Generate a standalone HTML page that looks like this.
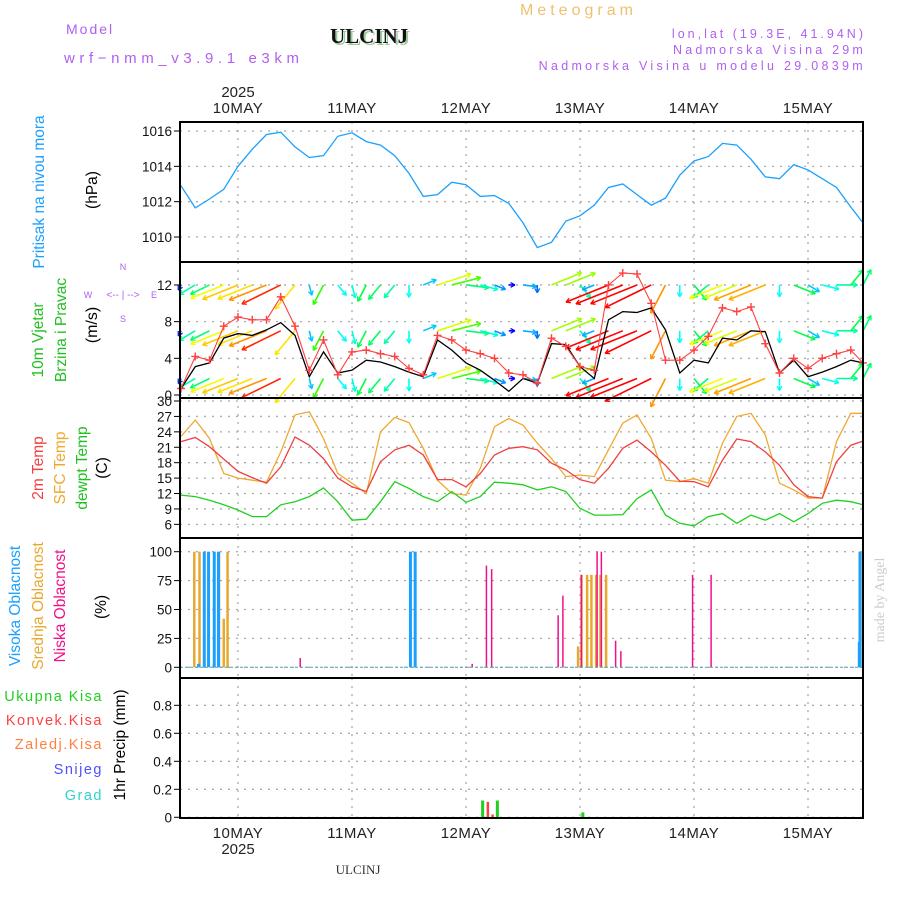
<!DOCTYPE html>
<html><head><meta charset="utf-8"><style>
body{margin:0;background:#fff}
svg{display:block;font-family:"Liberation Sans",sans-serif}
</style></head><body>
<svg id="chart" width="900" height="900" viewBox="0 0 900 900" xmlns="http://www.w3.org/2000/svg">
<rect width="900" height="900" fill="#fff"/>
<text x="66" y="34" fill="#b060f0" font-size="14" letter-spacing="2">Model</text>
<text x="64" y="63" fill="#b060f0" font-size="15" letter-spacing="4.6">wrf−nmm_v3.9.1 e3km</text>
<text x="330" y="43" font-family="Liberation Serif,serif" font-weight="bold" font-size="21" fill="#9c9" dx="2" dy="2">ULCINJ</text>
<text x="330" y="43" font-family="Liberation Serif,serif" font-weight="bold" font-size="21" fill="#111">ULCINJ</text>
<text x="520" y="15" fill="#f0c070" font-size="16" letter-spacing="4">Meteogram</text>
<text x="866" y="38" text-anchor="end" fill="#b060f0" font-size="12.5" letter-spacing="3">lon,lat (19.3E, 41.94N)</text>
<text x="866" y="54" text-anchor="end" fill="#b060f0" font-size="12.5" letter-spacing="3.2">Nadmorska Visina 29m</text>
<text x="866" y="70" text-anchor="end" fill="#b060f0" font-size="12.5" letter-spacing="3.3">Nadmorska Visina u modelu 29.0839m</text>
<text x="358" y="874" text-anchor="middle" font-family="Liberation Serif,serif" font-size="13" fill="#333">ULCINJ</text>
<text transform="translate(884,600) rotate(-90)" text-anchor="middle" font-family="Liberation Serif,serif" font-size="14" fill="#ccc">made by Angel</text>
<g id="grid"></g><g id="marks"></g><g id="frames"></g><g id="labels"></g>
</svg>
<script>
// ---- data (hours from 10MAY 00UTC, every 3h from -12 to 132) ----
const hours=[-12,-9,-6,-3,0,3,6,9,12,15,18,21,24,27,30,33,36,39,42,45,48,51,54,57,60,63,66,69,72,75,78,81,84,87,90,93,96,99,102,105,108,111,114,117,120,123,126,129,132];
const pressure=[1012.9,1011.65,1012.15,1012.7,1014.0,1014.97,1015.8,1015.93,1015.1,1014.5,1014.6,1015.7,1015.9,1015.4,1015.2,1014.6,1013.6,1012.3,1012.4,1013.1,1012.96,1012.3,1012.35,1011.9,1010.8,1009.4,1009.7,1010.9,1011.2,1011.8,1012.8,1013.0,1012.4,1011.8,1012.2,1013.5,1014.3,1014.55,1015.3,1015.2,1014.4,1013.4,1013.3,1014.1,1013.8,1013.3,1012.8,1011.7,1010.8];
const windSpeed=[0.7,3.1,3.5,6.2,6.7,6.5,7.1,7.9,6.5,2.0,4.7,2.4,2.7,3.8,3.6,3.1,2.5,2.0,6.0,4.9,3.5,2.7,1.6,0.4,1.8,1.3,5.6,5.5,3.1,1.8,8.2,9.1,9.0,9.5,7.1,2.4,3.8,3.5,6.2,6.0,7.0,6.9,2.4,3.8,2.0,2.5,3.1,3.8,3.5];
const windGust=[0.7,4.2,3.8,7.5,8.5,8.2,8.2,10.7,7.5,2.7,6.0,2.2,4.7,4.9,4.5,4.2,2.9,2.2,6.5,6.0,4.9,4.5,4.0,2.4,2.2,1.3,6.2,5.3,3.1,2.7,12.0,13.3,13.2,10.0,3.8,3.8,4.9,6.4,9.5,9.1,9.6,5.6,2.4,4.0,2.9,4.0,4.5,4.9,3.5];
const windDir=[200,230,235,240,240,240,240,235,210,170,200,150,170,200,210,210,180,60,65,70,100,110,120,90,100,180,60,60,150,240,240,240,240,235,200,180,150,220,240,240,240,240,180,120,130,110,90,30,20];
const temp2m=[22.1,22.9,21.1,18.7,16.3,15.1,14.0,17.2,23.0,21.4,18.8,15.0,13.3,12.4,18.2,20.5,21.4,19.5,14.7,14.7,13.3,15.9,19.5,20.8,21.1,20.5,17.9,16.6,14.7,14.0,16.9,20.8,22.4,20.1,17.5,14.4,14.3,13.3,18.5,22.6,22.1,20.1,17.5,13.7,11.4,11.1,18.2,21.4,22.2];
const tempSfc=[23.1,26.3,22.7,15.9,15.0,14.6,14.2,20.1,27.3,27.9,22.7,15.9,14.0,12.0,24.0,26.8,25.8,20.8,14.6,12.0,11.7,16.9,25.0,26.6,25.3,21.8,18.8,15.3,15.6,15.3,20.5,25.7,27.3,22.7,14.6,14.3,14.9,14.0,21.8,27.0,27.6,23.4,14.0,12.7,11.1,11.1,22.1,27.6,27.6];
const dewpoint=[11.7,11.4,10.7,9.8,8.8,7.5,7.5,9.8,10.4,11.4,13.1,10.4,6.8,7.0,10.4,14.3,13.0,11.4,10.4,12.4,10.3,11.4,14.2,14.0,13.7,12.7,13.3,12.4,9.1,7.8,7.8,7.9,11.0,12.7,7.8,6.2,5.7,7.5,8.1,6.2,7.8,6.8,8.1,6.5,8.1,10.1,10.7,10.4,9.8];
const highCloudHours=[-8.3,-7.1,-6.2,-5.0,-4.1,36.3,37.3,130.8,131.6,132.2];
const highCloudVals=[3,100,100,100,100,100,100,22,20,100];
const midCloudHours=[-9.2,-8.1,-7.1,-5.1,-4.0,-3.0,-2.2,71.6,72.3,73.5,74.4,75.4,76.3,77.5,131.0,131.9];
const midCloudVals=[100,100,100,3,100,42,100,18,80,80,80,80,80,80,22,100];
const lowCloudHours=[13.1,49.3,52.3,53.4,67.4,68.4,72.3,75.6,76.5,79.5,80.6,95.7,99.6];
const lowCloudVals=[8,3,88,85,45,62,80,100,100,23,14,80,80];
const totalPrecipHours=[51.5,54.6,72.6];
const totalPrecipVals=[0.12,0.12,0.035];
const convPrecipHours=[52.6,53.6];
const convPrecipVals=[0.11,0.02];
const dayLabels=["10MAY","11MAY","12MAY","13MAY","14MAY","15MAY"];
const pTicks=[1010,1012,1014,1016];
const wTicks=[0,4,8,12];
const tTicks=[6,9,12,15,18,21,24,27,30];
const cTicks=[0,25,50,75,100];
const rTicks=[0,0.2,0.4,0.6,0.8];

const NS="http://www.w3.org/2000/svg";
const L=180,R=863;
const X=t=>238+t*114/24;
const yP=v=>131+(1016-v)*17.67;
const yW=v=>395-v*9.17;
const yT=v=>401+(30-v)*5.14;
const yC=v=>667.3-v*1.156;
const yR=v=>817.3-v*140;
const G={grid:document.getElementById('grid'),marks:document.getElementById('marks'),frames:document.getElementById('frames'),labels:document.getElementById('labels')};
function mk(tag,attrs,parent,txt){const e=document.createElementNS(NS,tag);for(const k in attrs)e.setAttribute(k,attrs[k]);if(txt!==undefined)e.textContent=txt;G[parent].appendChild(e);return e;}
const clampX=x=>Math.max(L,Math.min(R,x));

const panels=[[122,262,pTicks,yP,v=>v],[262,398,wTicks,yW,v=>v],[398,538,tTicks,yT,v=>v],[538,678,cTicks,yC,v=>v],[678,818,rTicks,yR,v=>v===0?'0':v.toFixed(1)]];
panels.forEach((p,i)=>{
  const [top,bot,ticks,fy,fmt]=p;
  ticks.forEach(v=>{const y=fy(v);
    const gl=mk('line',{x1:L,x2:R,y1:y,y2:y,stroke:'#aaa','stroke-dasharray':'2,6','stroke-width':1.3},'grid');
    
    
    const tl=mk('text',{x:172,y:y+5,'text-anchor':'end','font-size':13.5,fill:'#111'},'labels',fmt(v));
    
    
    mk('line',{x1:174,x2:180,y1:y,y2:y,stroke:'#000'},'labels');
  });
  dayLabels.forEach((d,k)=>{const x=X(24*k);
    const vl=mk('line',{x1:x,x2:x,y1:top,y2:bot,stroke:'#aaa','stroke-dasharray':'2,6','stroke-width':1.3},'grid');
    
    });
  const fr=mk('rect',{x:L,y:top,width:R-L,height:bot-top,fill:'none',stroke:'#000','stroke-width':2},'frames');
  
  
});
dayLabels.forEach((d,k)=>{const x=X(24*k);
  const a=mk('text',{x:x,y:113,'text-anchor':'middle','font-size':15,fill:'#222','letter-spacing':0.5},'labels',d);
  
  
  const b=mk('text',{x:x,y:838,'text-anchor':'middle','font-size':15,fill:'#222','letter-spacing':0.5},'labels',d);
  
  
});
[97,854].forEach(y=>{const e=mk('text',{x:X(0),y:y,'text-anchor':'middle','font-size':15,fill:'#222'},'labels','2025');
  
  });

function line(vals,fy,color,name,w){
  const pts=hours.map((h,i)=>clampX(X(h)).toFixed(1)+','+fy(vals[i]).toFixed(1)).join(' ');
  const e=mk('polyline',{points:pts,fill:'none',stroke:color,'stroke-width':w||1.3},'marks');
  
  
}
line(pressure,yP,'#1aa0ff','pressure-line');
const windColor=s=>'hsl('+Math.max(0,Math.min(270,255-s*31))+',100%,50%)';
[1.8,7,12].forEach(lv=>{
  hours.forEach((h,i)=>{
    const x0=clampX(X(h)),y0=yW(lv);const len=4+windSpeed[i]*5.5;const a=windDir[i]*Math.PI/180;
    const x1=x0+len*Math.sin(a),y1=y0-len*Math.cos(a)*0.7;
    const c=windColor(windSpeed[i]);
    const ar=mk('line',{x1:x0,y1:y0,x2:x1,y2:y1,stroke:c,'stroke-width':1.6},'marks');
    
    
    const ang=Math.atan2(y1-y0,x1-x0);
    [0.5,-0.5].forEach(d=>{mk('line',{x1:x1,y1:y1,x2:x1-5*Math.cos(ang+d),y2:y1-5*Math.sin(ang+d),stroke:c,'stroke-width':1.3},'marks');});
  });
});
line(windSpeed,yW,'#000','wind-speed-line');
line(windGust,yW,'#ff4040','wind-gust-line',1.1);
hours.forEach((h,i)=>{const x=clampX(X(h)),y=yW(windGust[i]);
  const m=mk('path',{d:`M${x-4} ${y}H${x+4}M${x} ${y-4}V${y+4}`,stroke:'#ff4040','stroke-width':1.4},'marks');
  
  });
line(tempSfc,yT,'#f0a830','sfc-temp-line');
line(temp2m,yT,'#f04040','temp-2m-line');
line(dewpoint,yT,'#20d020','dewpoint-line');
function bars(hs,vs,fy,color,w,name,base){
  hs.forEach((h,i)=>{const x=clampX(X(h));const y=fy(vs[i]);
    const b=mk('rect',{x:Math.min(x,R-w)-w/2,y:y,width:w,height:Math.max(0,base-y),fill:color},'marks');
    
    });
}
bars(midCloudHours,midCloudVals,yC,'#e8a830',2.5,'mid-cloud-bar',yC(0));
bars(highCloudHours,highCloudVals,yC,'#1aa0ff',3,'high-cloud-bar',yC(0));
bars(lowCloudHours,lowCloudVals,yC,'#f0108a',1.5,'low-cloud-bar',yC(0));
mk('line',{x1:L,x2:R,y1:yC(0),y2:yC(0),stroke:'#6ab','stroke-dasharray':'3,2','stroke-width':1.2},'marks');
bars(totalPrecipHours,totalPrecipVals,yR,'#20d020',3,'total-precip-bar',yR(0));
bars(convPrecipHours,convPrecipVals,yR,'#ff4040',2.5,'convective-precip-bar',yR(0));
mk('line',{x1:L,x2:R,y1:818,y2:818,stroke:'#000','stroke-dasharray':'5,3','stroke-width':2},'frames');

function vtext(x,y,t,c,name,fs){const e=mk('text',{transform:`translate(${x},${y}) rotate(-90)`,'text-anchor':'middle','font-size':fs||15.5,fill:c},'labels',t);
  
  }
vtext(44,192,'Pritisak na nivou mora','#1aa0ff','pressure-axis-title');
vtext(97,190,'(hPa)','#000','pressure-unit');
vtext(43,340,'10m Vjetar','#20c020','wind-axis-title');
vtext(66,330,'Brzina i Pravac','#20c020','wind-axis-subtitle');
vtext(97,325,'(m/s)','#000','wind-unit',16);
vtext(43,468,'2m Temp','#f04040','temp-2m-title');
vtext(65,468,'SFC Temp','#f0a830','sfc-temp-title');
vtext(87,468,'dewpt Temp','#20c020','dewpoint-title');
vtext(107,468,'(C)','#000','temp-unit');
vtext(20,606,'Visoka Oblacnost','#1aa0ff','high-cloud-title');
vtext(43,606,'Srednja Oblacnost','#e8a830','mid-cloud-title');
vtext(65,606,'Niska Oblacnost','#f0108a','low-cloud-title');
vtext(106,607,'(%)','#000','cloud-unit');
vtext(125,745,'1hr Precip (mm)','#000','precip-axis-title');
[['Ukupna Kisa','#20d020',701,'legend-total-rain'],['Konvek.Kisa','#ff4040',725,'legend-convective-rain'],['Zaledj.Kisa','#ff8040',749,'legend-freezing-rain'],['Snijeg','#5050ff',774,'legend-snow'],['Grad','#30d0d0',800,'legend-hail']].forEach(([t,c,y,n])=>{
  const e=mk('text',{x:103,y:y,'text-anchor':'end','font-size':14.5,fill:c,'letter-spacing':1.5},'labels',t);
  
  });
[['N',123,270],['S',123,322],['W',88,298],['E',154,298]].forEach(([t,x,y])=>{mk('text',{x:x,y:y,'text-anchor':'middle','font-size':9,fill:'#b060f0'},'labels',t);});
const cp=mk('text',{x:123,y:298,'text-anchor':'middle','font-size':10,fill:'#b060f0'},'labels','<-- | -->');


</script>
</body></html>
